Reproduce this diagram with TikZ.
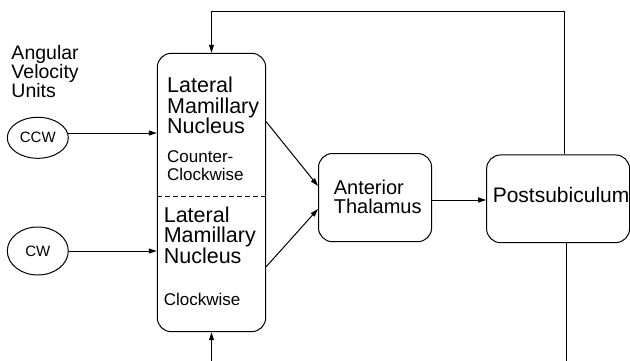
\documentclass[tikz,border=0pt]{standalone}
\usepackage{fontspec}
\setmainfont{Liberation Sans}
\usetikzlibrary{arrows.meta,shapes.geometric}
\begin{document}
\begin{tikzpicture}[x=1pt,y=-1pt,
  line width=1pt,
  box/.style={draw,rounded corners=14pt,rectangle,inner sep=0pt},
  unit/.style={draw,ellipse,inner sep=0pt,font=\fontsize{15}{15}\selectfont},
  lbl/.style={inner sep=0pt,anchor=base west,align=left},
  big/.style={font=\fontsize{21.5}{20.3}\selectfont},
  small/.style={font=\fontsize{17}{18}\selectfont},
  arr/.style={-{Triangle[length=8pt,width=5pt]}}]
\useasboundingbox (0,0) rectangle (630,361);
% boxes
\node[box,minimum width=108.4pt,minimum height=278.4pt] (lmn) at (211.5,192.5) {};
\node[box,minimum width=113.2pt,minimum height=88.2pt] (at) at (375.1,197.6) {};
\node[box,minimum width=143pt,minimum height=87.7pt] (ps) at (558.1,198.8) {};
\draw[dashed,dash pattern=on 5pt off 3pt] (lmn.west |- 0,196) coordinate (dl) -- (lmn.east |- 0,196) coordinate (dr);
% ellipses
\node[unit,minimum width=61pt,minimum height=41pt] (ccw) at (37.8,137.8) {CCW};
\node[unit,minimum width=61pt,minimum height=48pt] (cw) at (37.8,251) {CW};
% labels (anchor: baseline of last line)
\node[lbl,font=\fontsize{19.5}{19.3}\selectfont] (avu) at (11,97.7) {Angular\\Velocity\\Units};
\node[lbl,big] (lmn1) at (166.7,133.3) {Lateral\\Mamillary\\Nucleus};
\node[lbl,small] (ccwl) at (166.7,180.7) {Counter-\\Clockwise};
\node[lbl,font=\fontsize{21.5}{20.5}\selectfont] (lmn2) at (163.3,263.3) {Lateral\\Mamillary\\Nucleus};
\node[lbl,small] (cwl) at (163.3,305) {Clockwise};
\node[lbl,font=\fontsize{20}{19.2}\selectfont] (atl) at (333.3,213.5) {Anterior\\Thalamus};
\node[lbl,font=\fontsize{21}{21}\selectfont] (psl) at (492.3,202.7) {Postsubiculum};
% connectors
\draw[arr] (ccw.9) -- (ccw.9 -| lmn.west);
\draw[arr] (cw.east) -- (cw.east -| lmn.west);
\draw[arr] ([yshift=70.8pt]lmn.east) -- ([yshift=11.6pt]at.west);
\draw[arr] ([yshift=-74.2pt]lmn.east) -- ([yshift=-11.4pt]at.west);
\draw[arr] ([yshift=-2.4pt]at.east) -- ([yshift=-2.4pt]at.east -| ps.west);
\coordinate (tr) at (564,12);
\coordinate (tl) at (lmn.north |- tr);
\draw[arr] (ps.north -| tr) -- (tr) -- (tl) -- (lmn.north);
\coordinate (bl) at (lmn.south |- 0,361);
\draw[arr] (bl) -- (lmn.south);
\coordinate (br) at (566.5,361);
\draw (ps.south -| br) -- (br);
\end{tikzpicture}
\end{document}
